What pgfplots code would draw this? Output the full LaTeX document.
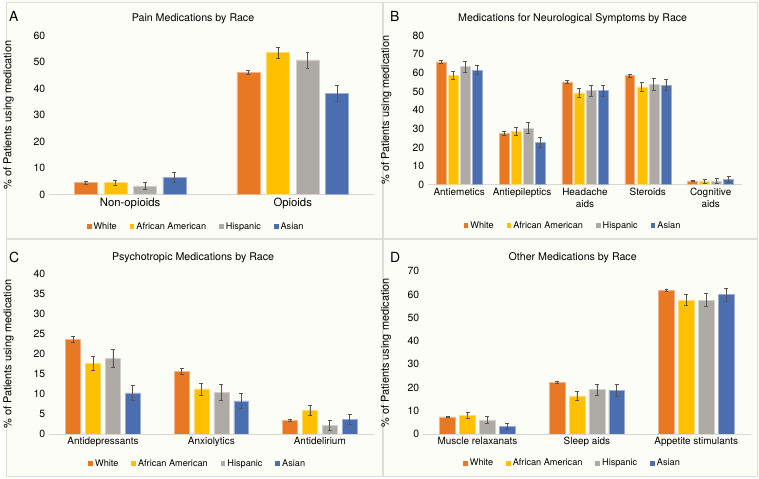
\documentclass[border=0pt]{standalone}
\usepackage{fontspec}
\setmainfont{TeX Gyre Heros}
\usepackage{pgfplots}
\pgfplotsset{compat=1.18}

\definecolor{cWhite}{RGB}{233,120,36}
\definecolor{cAfr}{RGB}{255,192,0}
\definecolor{cHisp}{RGB}{174,170,165}
\definecolor{cAsian}{RGB}{74,110,176}
\definecolor{errc}{RGB}{85,85,85}
\definecolor{bgc}{RGB}{253,253,248}
\definecolor{bordc}{RGB}{222,222,216}
\definecolor{axc}{RGB}{215,215,210}

\pgfplotsset{
  panel/.style={
    scale only axis, ymin=0,
    enlarge x limits=false,
    axis lines*=left,
    y axis line style={draw=none},
    x axis line style={draw=axc, line width=0.8pt},
    major tick length=0pt, tick style={draw=none},
    /pgf/number format/assume math mode=true,
    yticklabel style={font=\fontsize{10.5}{12}\selectfont},
    xticklabel style={font=\fontsize{10}{12}\selectfont, align=center},
    ylabel={\% of Patients using medication},
    ylabel style={font=\fontsize{11}{12}\selectfont},
    legend columns=4,
    legend cell align=left,
    legend style={draw=none, fill=none, anchor=center,
      font=\fontsize{9.2}{11}\selectfont,
      /tikz/every even column/.append style={column sep=11pt}},
  },
  eb/.style={error bars/y dir=both, error bars/y explicit,
    error bars/error bar style={color=errc, line width=0.7pt},
    error bars/error mark options={rotate=90, mark size=2pt, color=errc, line width=0.7pt}},
  % bar with width #1 and shift #2; the error bar is moved by the same shift
  bb/.style 2 args={ybar, bar width=#1, bar shift=#2, eb,
    error bars/error bar style={xshift=#2}, forget plot},
  sW/.style={fill=cWhite, draw=cWhite!55!white, line width=0.5pt},
  sA/.style={fill=cAfr, draw=cAfr!55!white, line width=0.5pt},
  sH/.style={fill=cHisp, draw=cHisp!55!white, line width=0.5pt},
  sS/.style={fill=cAsian, draw=cAsian!55!white, line width=0.5pt},
  sq/.style={draw=none, fill=#1,
    legend image code/.code={\fill[##1] (0pt,-2.4pt) rectangle (4.8pt,2.4pt);}},
}

\begin{document}
\begin{tikzpicture}[x=1pt,y=1pt]
\fill[bgc] (0,0) rectangle (759,481);
\draw[bordc, line width=0.8pt] (2,241) rectangle (380,479);
\draw[bordc, line width=0.8pt] (381,241) rectangle (757,479);
\draw[bordc, line width=0.8pt] (2,2) rectangle (380,240);
\draw[bordc, line width=0.8pt] (381,2) rectangle (757,240);

% A
\begin{axis}[panel, at={(45pt,285.3pt)}, anchor=south west,
  width=327pt, height=160pt, ymax=60, ytick={0,10,...,60},
  xmin=-0.5, xmax=1.5, xtick={0,1},
  xticklabels={Non-opioids, Opioids},
  xticklabel style={font=\fontsize{11.4}{13}\selectfont},
  ylabel style={at={(axis description cs:-0.097,0.5)}},
  legend style={at={(axis description cs:0.453,-0.2)}}]
\addplot[bb={23pt}{-44.55pt}, sW] coordinates {(0,4.5) +- (0,0.6) (1,46.2) +- (0,0.8)};
\addplot[bb={23pt}{-14.85pt}, sA] coordinates {(0,4.5) +- (0,1.0) (1,53.5) +- (0,2.2)};
\addplot[bb={23pt}{14.85pt}, sH] coordinates {(0,3.3) +- (0,1.2) (1,50.8) +- (0,3.0)};
\addplot[bb={23pt}{44.55pt}, sS] coordinates {(0,6.6) +- (0,1.8) (1,38.2) +- (0,3.0)};
\addlegendimage{sq=cWhite}\addlegendimage{sq=cAfr}\addlegendimage{sq=cHisp}\addlegendimage{sq=cAsian}
\legend{White, African American, Hispanic, Asian}
\end{axis}

% B
\begin{axis}[panel, at={(426pt,295.3pt)}, anchor=south west,
  width=316pt, height=150pt, ymax=80, ytick={0,10,...,80},
  xmin=-0.5, xmax=4.5, xtick={0,...,4},
  xticklabels={Antiemetics, Antiepileptics, {Headache\\aids}, Steroids, {Cognitive\\aids}},
  ylabel style={at={(axis description cs:-0.104,0.5)}},
  legend style={at={(axis description cs:0.462,-0.273)}}]
\addplot[bb={10pt}{-18.15pt}, sW] coordinates {(0,65.8) +- (0,0.8) (1,27.4) +- (0,1.0) (2,55.2) +- (0,0.8) (3,58.5) +- (0,0.8) (4,2.0) +- (0,0.4)};
\addplot[bb={10pt}{-6.05pt}, sA] coordinates {(0,58.5) +- (0,2.2) (1,28.7) +- (0,2.2) (2,49.2) +- (0,2.2) (3,52.5) +- (0,2.3) (4,1.6) +- (0,1.1)};
\addplot[bb={10pt}{6.05pt}, sH] coordinates {(0,63.3) +- (0,2.8) (1,30.4) +- (0,2.8) (2,50.4) +- (0,3.0) (3,53.8) +- (0,3.0) (4,2.1) +- (0,1.2)};
\addplot[bb={10pt}{18.15pt}, sS] coordinates {(0,61.5) +- (0,2.5) (1,22.6) +- (0,2.8) (2,50.4) +- (0,3.0) (3,53.4) +- (0,3.0) (4,2.9) +- (0,1.5)};
\addlegendimage{sq=cWhite}\addlegendimage{sq=cAfr}\addlegendimage{sq=cHisp}\addlegendimage{sq=cAsian}
\legend{White, African American, Hispanic, Asian}
\end{axis}

% C
\begin{axis}[panel, at={(45pt,44.7pt)}, anchor=south west,
  width=327pt, height=160.6pt, ymax=40, ytick={0,5,...,40},
  xmin=-0.5, xmax=2.5, xtick={0,1,2},
  xticklabels={Antidepressants, Anxiolytics, Antidelirium},
  ylabel style={at={(axis description cs:-0.097,0.5)}},
  legend style={at={(axis description cs:0.458,-0.185)}}]
\addplot[bb={15pt}{-30pt}, sW] coordinates {(0,23.7) +- (0,0.8) (1,15.7) +- (0,0.7) (2,3.4) +- (0,0.3)};
\addplot[bb={15pt}{-10pt}, sA] coordinates {(0,17.7) +- (0,1.8) (1,11.3) +- (0,1.5) (2,5.9) +- (0,1.2)};
\addplot[bb={15pt}{10pt}, sH] coordinates {(0,18.9) +- (0,2.3) (1,10.5) +- (0,2.0) (2,2.2) +- (0,1.2)};
\addplot[bb={15pt}{30pt}, sS] coordinates {(0,10.3) +- (0,2.0) (1,8.3) +- (0,1.8) (2,3.7) +- (0,1.3)};
\addlegendimage{sq=cWhite}\addlegendimage{sq=cAfr}\addlegendimage{sq=cHisp}\addlegendimage{sq=cAsian}
\legend{White, African American, Hispanic, Asian}
\end{axis}

% D
\begin{axis}[panel, at={(421pt,44.7pt)}, anchor=south west,
  width=330pt, height=163.6pt, ymax=70, ytick={0,10,...,70},
  xmin=-0.5, xmax=2.5, xtick={0,1,2},
  xticklabels={Muscle relaxanats, Sleep aids, Appetite stimulants},
  ylabel style={at={(axis description cs:-0.085,0.5)}},
  legend style={at={(axis description cs:0.456,-0.18)}}]
\addplot[bb={16pt}{-30pt}, sW] coordinates {(0,7.4) +- (0,0.4) (1,22.2) +- (0,0.6) (2,61.8) +- (0,0.6)};
\addplot[bb={16pt}{-10pt}, sA] coordinates {(0,7.9) +- (0,1.3) (1,16.4) +- (0,1.8) (2,57.6) +- (0,2.3)};
\addplot[bb={16pt}{10pt}, sH] coordinates {(0,6.1) +- (0,1.6) (1,19.1) +- (0,2.3) (2,57.6) +- (0,2.8)};
\addplot[bb={16pt}{30pt}, sS] coordinates {(0,3.2) +- (0,1.2) (1,18.8) +- (0,2.4) (2,60.0) +- (0,2.8)};
\addlegendimage{sq=cWhite}\addlegendimage{sq=cAfr}\addlegendimage{sq=cHisp}\addlegendimage{sq=cAsian}
\legend{White, African American, Hispanic, Asian}
\end{axis}

\node[font=\fontsize{10.7}{12}\selectfont] at (190,462) {Pain Medications by Race};
\node[font=\fontsize{10.7}{12}\selectfont] at (571.7,462) {Medications for Neurological Symptoms by Race};
\node[font=\fontsize{10.7}{12}\selectfont] at (190,222) {Psychotropic Medications by Race};
\node[font=\fontsize{10.7}{12}\selectfont] at (571.7,222) {Other Medications by Race};
\node[font=\fontsize{14}{16}\selectfont, anchor=west, inner sep=0pt] at (5,464.3) {A};
\node[font=\fontsize{14}{16}\selectfont, anchor=west, inner sep=0pt] at (388,464.3) {B};
\node[font=\fontsize{14}{16}\selectfont, anchor=west, inner sep=0pt] at (5,222.7) {C};
\node[font=\fontsize{14}{16}\selectfont, anchor=west, inner sep=0pt] at (388,222.7) {D};
\end{tikzpicture}
\end{document}
